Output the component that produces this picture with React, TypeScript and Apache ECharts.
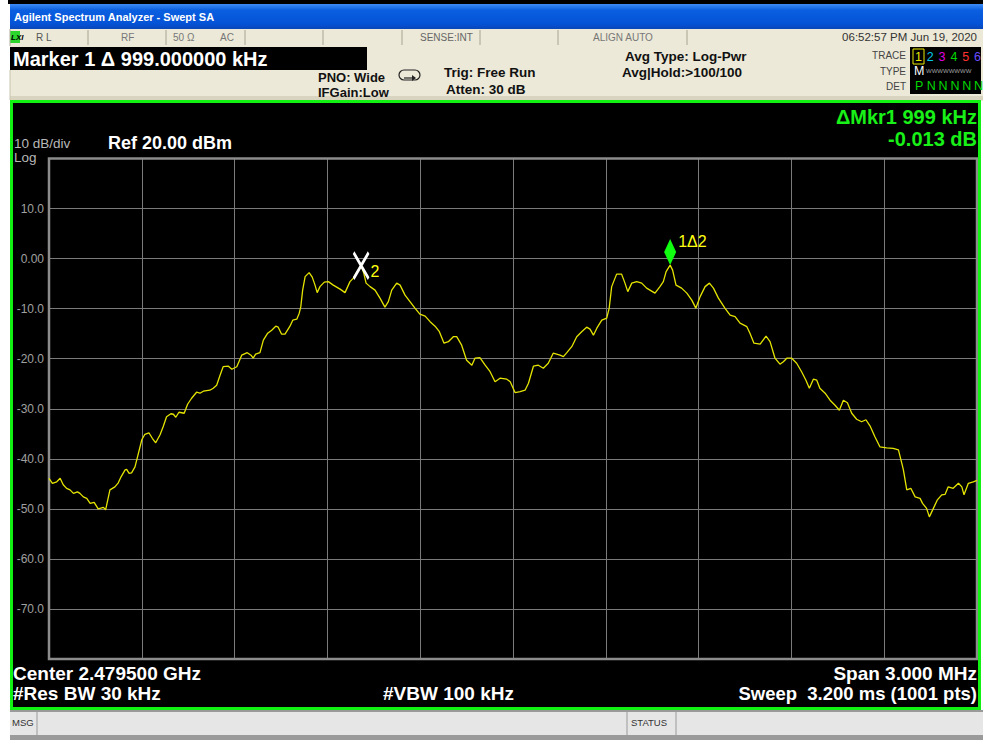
import React, { useEffect, useRef } from "react";
import * as echarts from "echarts";

// Frequency offset from center (kHz), 2.479500 GHz center, 3 MHz span
const freqKHz = [
  -1500, -1489, -1475, -1464, -1454, -1443, -1432, -1421, -1408, -1400, -1389, -1378, -1367, -1354, -1341, -1324, -1317,
  -1303, -1287, -1276, -1267, -1254, -1249, -1241, -1233, -1222, -1211, -1200, -1190, -1177, -1166, -1155, -1141, -1131, -1120, -1106, -1098,
  -1090, -1080, -1071, -1063, -1052, -1039, -1023, -1012, -1001, -980,
  -969, -958, -947, -937, -920, -909, -893, -877, -859, -847,
  -840, -832, -818, -807, -793, -780, -767, -759, -748, -737,
  -721, -712, -699, -691, -686, -680, -672, -659, -649, -640,
  -633, -624, -610, -597, -581, -559, -543, -527, -516, -504,
  -491, -482, -475, -462, -446, -430, -414, -403, -392, -376,
  -365, -349, -333, -317, -301, -284, -268, -252, -238, -223,
  -209, -193, -182, -166, -150, -133, -123, -107, -90, -74,
  -58, -42, -20, -9, 7, 23, 39, 50, 66, 82,
  98, 114, 130, 152, 163, 174, 190, 206, 222, 238,
  249, 260, 271, 287, 303, 311, 319, 335, 351, 362,
  371, 384, 400, 416, 432, 459, 475, 486, 495, 508,
  516, 527, 545, 562, 578, 591, 605, 621, 635, 648,
  664, 685, 702, 718, 734, 756, 766, 779, 799, 818,
  831, 847, 863, 874, 885, 901, 917, 933, 947, 958,
  971, 982, 992, 1009, 1025, 1041, 1055, 1068, 1081, 1095,
  1111, 1127, 1141, 1154, 1170, 1186, 1208, 1229, 1246, 1257,
  1262, 1273, 1286, 1300, 1316, 1324, 1337, 1346, 1359, 1372,
  1386, 1397, 1407, 1423, 1440, 1451, 1458, 1472, 1488, 1500,
];

// Trace 1 level (dBm)
const levelDbm = [
  -43.9, -44.9, -44.6, -43.9, -45.2, -45.9, -46.2, -46.9, -46.6, -46.9, -47.6, -47.9, -48.9, -48.7, -50.0, -49.7, -50.2,
  -46.2, -45.6, -44.8, -43.6, -42.2, -42.1, -42.9, -42.8, -41.6, -38.9, -36.2, -35.1, -34.8, -35.9, -36.8, -35.2, -33.6, -31.6, -31.0, -31.1,
  -31.7, -30.7, -30.8, -30.9, -29.1, -27.9, -26.7, -26.9, -26.5, -26.3,
  -25.9, -25.3, -23.3, -21.6, -21.5, -22.1, -21.6, -19.3, -18.8, -19.3,
  -19.9, -19.1, -18.8, -16.3, -14.9, -14.3, -13.5, -13.7, -15.1, -15.1,
  -13.5, -12.3, -12.1, -10.9, -9.6, -6.3, -3.6, -2.8, -3.7, -5.3,
  -6.8, -5.6, -4.7, -4.6, -5.3, -6.1, -6.8, -4.6, -3.9, -2.6,
  -1.4, -3.0, -4.9, -5.6, -6.3, -7.9, -9.7, -8.6, -6.3, -4.9,
  -5.3, -7.3, -8.6, -9.9, -11.1, -11.5, -12.6, -13.5, -14.6, -16.9,
  -16.6, -15.6, -15.6, -17.3, -20.3, -21.3, -19.9, -19.8, -21.3, -22.6,
  -24.6, -23.9, -24.1, -24.6, -26.8, -26.6, -26.3, -24.9, -21.5, -21.3,
  -21.9, -20.9, -18.9, -19.3, -19.6, -18.8, -17.6, -15.6, -14.6, -13.7,
  -14.1, -15.3, -13.9, -12.3, -11.9, -9.9, -5.6, -3.1, -3.1, -4.9,
  -6.6, -4.9, -4.6, -4.9, -5.9, -6.9, -5.6, -4.6, -2.6, -1.3,
  -2.3, -5.3, -5.9, -6.9, -8.3, -9.9, -7.6, -5.6, -4.9, -5.9,
  -7.9, -9.9, -11.3, -11.6, -12.9, -13.6, -14.9, -16.9, -17.1, -15.5,
  -16.6, -19.9, -21.1, -20.6, -19.9, -19.9, -20.9, -22.6, -24.3, -25.9,
  -24.1, -24.3, -25.9, -26.9, -28.3, -29.3, -30.3, -28.3, -28.8, -30.9,
  -32.1, -32.6, -32.2, -33.4, -35.6, -37.6, -37.8, -37.9, -38.2, -40.9,
  -42.2, -46.2, -45.9, -47.6, -47.9, -48.9, -49.9, -51.6, -49.9, -48.2,
  -47.2, -47.1, -45.6, -45.9, -44.9, -45.6, -47.2, -44.9, -44.6, -44.3,
];

// Markers: marker 1 (delta, diamond) and marker 2 (reference, X)
const markerFreqKHz = [508, -491];
const markerLevelDbm = [-1.3, -1.4];

const refLevel = 20;
const bottomLevel = -80;
const dbPerDiv = 10;
const spanKHz = 3000;

const titleText = "Agilent Spectrum Analyzer - Swept SA";
const markerHeader = "Marker 1 \u0394 999.000000 kHz";
const deltaMarkerLines = ["\u0394Mkr1 999 kHz", "-0.013 dB"];
const bottomLeft = ["Center 2.479500 GHz", "#Res BW 30 kHz"];
const bottomMid = "#VBW 100 kHz";
const bottomRight = ["Span 3.000 MHz", "Sweep  3.200 ms (1001 pts)"];
const traceNums = ["1", "2", "3", "4", "5", "6"];
const traceColors = ["#E8E800", "#00C8E8", "#E000E0", "#00D800", "#FF3030", "#6A4CFF"];
const detLetters = ["P", "N", "N", "N", "N", "N"];

const FONT = '"Liberation Sans", Arial, sans-serif';

function txt(text: string, x: number, y: number, size: number, fill: string, opts: any = {}) {
  return {
    type: "text",
    x,
    y,
    z: 20,
    silent: true,
    style: {
      text,
      fill,
      fontSize: size,
      fontFamily: FONT,
      fontWeight: opts.bold ? "bold" : "normal",
      align: opts.align || "left",
      verticalAlign: "middle",
      fontStyle: opts.italic ? "italic" : "normal",
      lineHeight: opts.lineHeight,
    },
  };
}

function rect(x: number, y: number, w: number, h: number, fill: any, opts: any = {}) {
  return {
    type: "rect",
    z: opts.z ?? 0,
    silent: true,
    shape: { x, y, width: w, height: h, r: opts.r || 0 },
    style: { fill, stroke: opts.stroke || null, lineWidth: opts.lineWidth || 0 },
  };
}

function vline(x: number, y1: number, y2: number, color: string, w = 1) {
  return {
    type: "line",
    z: 5,
    silent: true,
    shape: { x1: x, y1, x2: x, y2 },
    style: { stroke: color, lineWidth: w },
  };
}

export default function App() {
  const ref = useRef<HTMLDivElement>(null);

  useEffect(() => {
    if (!ref.current) return;
    const chart = echarts.init(ref.current, null, { renderer: "svg" });

    const traceData = freqKHz.map((f, i) => [f, levelDbm[i]]);

    const beige = "#ECE9D8";
    const graphics: any[] = [
      rect(0, 0, 983, 740, "#FFFFFF", { z: -10 }),
      rect(8, 0, 975, 4, "#000000"),
      rect(10, 4, 973, 25, new echarts.graphic.LinearGradient(0, 0, 0, 1, [
        { offset: 0, color: "#3D8DF5" },
        { offset: 0.25, color: "#0A5FE0" },
        { offset: 0.8, color: "#0552D6" },
        { offset: 1, color: "#0A47B8" },
      ])),
      txt(titleText, 14, 17, 11, "#FFFFFF", { bold: true }),
      // status row
      rect(10, 29, 973, 17, beige),
      vline(10, 29, 46, "#B0AC98"),
      rect(10, 31, 10, 12, "#2CD62C"),
      txt("LXI", 11, 37, 8, "#000000", { bold: true, italic: true }),
      txt("R L", 36, 37, 10, "#555555"),
      txt("RF", 121, 37, 10, "#777777"),
      txt("50 \u03A9", 173, 37, 10, "#777777"),
      txt("AC", 220, 37, 10, "#777777"),
      txt("SENSE:INT", 420, 37, 10, "#666666"),
      txt("ALIGN AUTO", 593, 37, 10, "#777777"),
      txt("06:52:57 PM Jun 19, 2020", 977, 37, 11.5, "#333333", { align: "right" }),
      ...[88, 166, 245, 323, 402, 480, 558, 687].map((x) => vline(x, 30, 45, "#A8A493")),
      // header row
      rect(10, 46, 973, 55, beige),
      rect(10, 47, 357, 23, "#000000"),
      txt(markerHeader, 13, 58.5, 20, "#FFFFFF", { bold: true }),
      vline(10, 70, 100, "#C8C4B0"),
      txt("PNO: Wide", 318, 77, 13, "#111111", { bold: true }),
      txt("IFGain:Low", 318, 92, 13, "#111111", { bold: true }),
      rect(399, 70, 21, 10, "none", { stroke: "#222222", lineWidth: 1.2, r: 5 }),
      {
        type: "polyline",
        z: 6,
        silent: true,
        shape: { points: [[404, 78], [413, 78]] },
        style: { stroke: "#222", lineWidth: 1.2, fill: null },
      },
      {
        type: "polygon",
        z: 6,
        silent: true,
        shape: { points: [[412, 75], [416, 78], [412, 81]] },
        style: { fill: "#222" },
      },
      txt("Trig: Free Run", 444, 72, 13.5, "#111111", { bold: true }),
      txt("Atten: 30 dB", 446, 89, 13.5, "#111111", { bold: true }),
      txt("Avg Type: Log-Pwr", 625, 56, 13.5, "#111111", { bold: true }),
      txt("Avg|Hold:>100/100", 622, 72, 13.5, "#111111", { bold: true }),
      txt("TRACE", 906, 55, 10, "#444444", { align: "right" }),
      txt("TYPE", 906, 71, 10, "#444444", { align: "right" }),
      txt("DET", 906, 86, 10, "#444444", { align: "right" }),
      rect(910, 47, 71, 47, "#000000"),
      rect(913, 49, 11, 15, "none", { stroke: "#E8E800", lineWidth: 1, z: 6 }),
      ...traceNums.map((t, i) => txt(t, 915 + i * 11.8, 56.5, 12.5, traceColors[i])),
      txt("M", 914, 71, 12.5, "#FFFFFF"),
      txt("WWWWWWWW", 926, 70.5, 6, "#A0A0A0"),
      ...detLetters.map((t, i) => txt(t, 915 + i * 11.8, 86, 12.5, "#00D800")),
      rect(10, 96, 973, 4, "#D8D4C0"),
      // main display
      rect(10, 100, 971, 610, "#000000", { z: -1 }),
      rect(11.5, 101.5, 968, 607, "none", { stroke: "#12F212", lineWidth: 3, z: 4 }),
      txt(deltaMarkerLines[0], 977, 117, 20, "#18F018", { bold: true, align: "right", lineHeight: 19 }),
      txt(deltaMarkerLines[1], 977, 139, 20, "#18F018", { bold: true, align: "right", lineHeight: 19 }),
      txt("10 dB/div", 14, 143, 13.5, "#B8B8B8", { lineHeight: 12 }),
      txt("Log", 14, 157.5, 13.5, "#B8B8B8", { lineHeight: 12 }),
      txt("Ref 20.00 dBm", 108, 143, 18, "#FFFFFF", { bold: true }),
      txt(bottomLeft[0], 13, 673, 19, "#FFFFFF", { bold: true, lineHeight: 19 }),
      txt(bottomLeft[1], 13, 693, 19, "#FFFFFF", { bold: true, lineHeight: 19 }),
      txt(bottomMid, 383, 693, 19, "#FFFFFF", { bold: true, lineHeight: 19 }),
      txt(bottomRight[0], 977, 673, 19, "#FFFFFF", { bold: true, align: "right", lineHeight: 19 }),
      txt(bottomRight[1], 977, 693, 18.5, "#FFFFFF", { bold: true, align: "right", lineHeight: 19 }),
      // bottom status bar
      rect(10, 710, 973, 25, "#E6E6E6"),
      rect(10, 710, 973, 2, "#9A9A9A"),
      rect(10, 735, 973, 5, "#9A9A9A"),
      vline(37, 712, 735, "#9A9A9A"),
      vline(627, 712, 735, "#9A9A9A"),
      vline(676, 712, 735, "#9A9A9A"),
      txt("MSG", 12, 722, 9.5, "#333333"),
      txt("STATUS", 631, 722, 9.5, "#333333"),
    ];

    chart.setOption({
      animation: false,
      backgroundColor: "transparent",
      graphic: { elements: graphics },
      grid: {
        left: 49,
        top: 158.5,
        width: 928,
        height: 500.5,
        show: true,
        borderColor: "#8C8C8C",
        borderWidth: 2.5,
        backgroundColor: "transparent",
        z: 3,
      },
      xAxis: {
        type: "value",
        min: -spanKHz / 2,
        max: spanKHz / 2,
        interval: spanKHz / 10,
        axisLine: { show: false },
        axisTick: { show: false },
        axisLabel: { show: false },
        splitLine: { show: true, lineStyle: { color: "#7A7A7A", width: 1 } },
      },
      yAxis: {
        type: "value",
        min: bottomLevel,
        max: refLevel,
        interval: dbPerDiv,
        axisLine: { show: false },
        axisTick: { show: false },
        splitLine: { show: true, lineStyle: { color: "#7A7A7A", width: 1 } },
        axisLabel: {
          color: "#A0A0A0",
          fontSize: 12,
          fontFamily: FONT,
          margin: 5,
          formatter: (v: number) =>
            v === refLevel || v === bottomLevel ? "" : v === 0 ? "0.00" : v.toFixed(1),
        },
      },
      series: [
        {
          type: "line",
          data: traceData,
          showSymbol: false,
          symbol: "none",
          lineStyle: { color: "#E4E400", width: 1.3 },
          z: 5,
          silent: true,
        },
        {
          type: "scatter",
          data: [[markerFreqKHz[0], markerLevelDbm[0]]],
          symbol: "diamond",
          symbolSize: [12, 26],
          symbolOffset: [0, -13],
          itemStyle: { color: "#10FF10", opacity: 1 },
          z: 8,
          silent: true,
          label: {
            show: true,
            position: "right",
            distance: 2,
            offset: [0, -11],
            formatter: "1\u03942",
            color: "#FFFF10",
            fontSize: 16,
            fontFamily: FONT,
          },
        },
        {
          type: "scatter",
          data: [[markerFreqKHz[1], markerLevelDbm[1]]],
          symbol: "path://M0,0L10,16M10,0L0,16",
          symbolSize: [15, 26],
          itemStyle: { color: "none", borderColor: "#FFFFFF", borderWidth: 3, opacity: 1 },
          z: 8,
          silent: true,
          label: {
            show: true,
            position: "right",
            distance: 0,
            offset: [0, 6],
            formatter: "2",
            color: "#FFFF10",
            fontSize: 16,
            fontFamily: FONT,
          },
        },
      ],
    });

    return () => chart.dispose();
  }, []);

  return (
    <div
      ref={ref}
      style={{ position: "absolute", left: 0, top: 0, width: 983, height: 740 }}
    />
  );
}
